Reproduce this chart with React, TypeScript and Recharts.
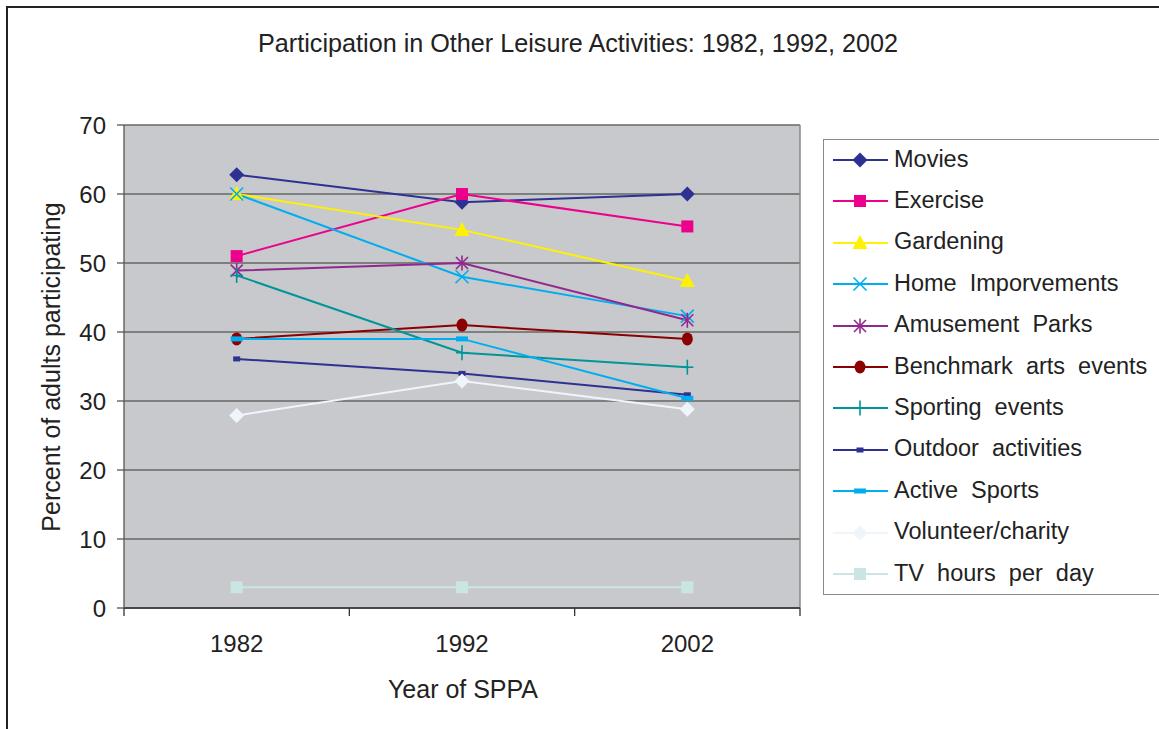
import React from 'react';
import { LineChart, Line, XAxis, YAxis, CartesianGrid, ReferenceLine } from 'recharts';

const years = ['1982', '1992', '2002'];
const movies = [62.8, 58.8, 60];
const exercise = [51, 60, 55.3];
const gardening = [60, 54.8, 47.4];
const homeImprovements = [60, 48, 42.3];
const amusementParks = [48.9, 50, 41.7];
const benchmarkArts = [39, 41, 39];
const sportingEvents = [48.2, 37, 34.9];
const outdoorActivities = [36.1, 34, 30.9];
const activeSports = [39, 39, 30.4];
const volunteerCharity = [27.9, 32.9, 28.8];
const tvHours = [3, 3, 3];
const yTicks = [0, 10, 20, 30, 40, 50, 60, 70];

type Shape = 'diamond' | 'square' | 'triangle' | 'x' | 'star' | 'circle' | 'plus' | 'smallsquare' | 'dash';

const series: { key: string; name: string; color: string; shape: Shape; values: number[] }[] = [
  { key: 'movies', name: 'Movies', color: '#2E3192', shape: 'diamond', values: movies },
  { key: 'exercise', name: 'Exercise', color: '#EC008C', shape: 'square', values: exercise },
  { key: 'gardening', name: 'Gardening', color: '#FFF200', shape: 'triangle', values: gardening },
  { key: 'home', name: 'Home Imporvements', color: '#00AEEF', shape: 'x', values: homeImprovements },
  { key: 'amusement', name: 'Amusement Parks', color: '#92278F', shape: 'star', values: amusementParks },
  { key: 'benchmark', name: 'Benchmark arts events', color: '#8B0000', shape: 'circle', values: benchmarkArts },
  { key: 'sporting', name: 'Sporting events', color: '#009599', shape: 'plus', values: sportingEvents },
  { key: 'outdoor', name: 'Outdoor activities', color: '#2E3192', shape: 'smallsquare', values: outdoorActivities },
  { key: 'active', name: 'Active Sports', color: '#00AEEF', shape: 'dash', values: activeSports },
  { key: 'volunteer', name: 'Volunteer/charity', color: '#EEF6FC', shape: 'diamond', values: volunteerCharity },
  { key: 'tv', name: 'TV hours per day', color: '#C9E6E4', shape: 'square', values: tvHours },
];

const data = years.map((y, i) => {
  const row: Record<string, number | string> = { year: y, pos: i + 0.5 };
  series.forEach((s) => {
    row[s.key] = s.values[i];
  });
  return row;
});

const FONT = "'Liberation Sans', Arial, sans-serif";

function marker(shape: Shape, color: string, cx: number, cy: number, key?: any) {
  switch (shape) {
    case 'diamond':
      return <polygon key={key} points={`${cx},${cy - 7.5} ${cx + 7.5},${cy} ${cx},${cy + 7.5} ${cx - 7.5},${cy}`} fill={color} />;
    case 'square':
      return <rect key={key} x={cx - 6} y={cy - 6} width={12} height={12} fill={color} />;
    case 'triangle':
      return <polygon key={key} points={`${cx},${cy - 8} ${cx + 7.5},${cy + 6} ${cx - 7.5},${cy + 6}`} fill={color} />;
    case 'x':
      return (
        <g key={key} stroke={color} strokeWidth={1.6}>
          <line x1={cx - 6.5} y1={cy - 6.5} x2={cx + 6.5} y2={cy + 6.5} />
          <line x1={cx - 6.5} y1={cy + 6.5} x2={cx + 6.5} y2={cy - 6.5} />
        </g>
      );
    case 'star':
      return (
        <g key={key} stroke={color} strokeWidth={1.6}>
          <line x1={cx - 6} y1={cy - 6} x2={cx + 6} y2={cy + 6} />
          <line x1={cx - 6} y1={cy + 6} x2={cx + 6} y2={cy - 6} />
          <line x1={cx} y1={cy - 7.5} x2={cx} y2={cy + 7.5} />
        </g>
      );
    case 'circle':
      return <ellipse key={key} cx={cx} cy={cy} rx={5.5} ry={6.5} fill={color} />;
    case 'plus':
      return (
        <g key={key} stroke={color} strokeWidth={1.6}>
          <line x1={cx} y1={cy - 7.5} x2={cx} y2={cy + 7.5} />
          <line x1={cx - 6} y1={cy} x2={cx + 6} y2={cy} />
        </g>
      );
    case 'smallsquare':
      return <rect key={key} x={cx - 3.5} y={cy - 2.5} width={7} height={5} fill={color} />;
    case 'dash':
      return <rect key={key} x={cx - 6} y={cy - 2.5} width={12} height={5} fill={color} />;
  }
  return null;
}

const XTick = (props: any) => {
  const { x, y, payload } = props;
  const v = payload.value as number;
  if (Number.isInteger(v)) {
    return <line x1={x} y1={y - 8} x2={x} y2={y} stroke="#333" strokeWidth={1.3} />;
  }
  return (
    <text x={x} y={y + 36} textAnchor="middle" fontSize={24} fill="#222" fontFamily={FONT}>
      {years[Math.floor(v)]}
    </text>
  );
};

const LegendBox = () => (
  <div
    style={{
      position: 'absolute',
      left: 823,
      top: 139,
      width: 400,
      height: 456,
      border: '1.5px solid #8a8a8a',
      background: '#fff',
      boxSizing: 'border-box',
      fontFamily: FONT,
    }}
  >
    {series.map((s, i) => (
      <div key={s.key} style={{ position: 'absolute', left: 8, top: -1 + i * 41.4, height: 40, display: 'flex', alignItems: 'center' }}>
        <svg width={60} height={24}>
          <line x1={1} y1={13} x2={56} y2={13} stroke={s.color} strokeWidth={2} />
          {marker(s.shape, s.color, 28, 13)}
        </svg>
        <span style={{ fontSize: 23.5, color: '#222', marginLeft: 2, whiteSpace: 'nowrap', wordSpacing: 6.5 }}>{s.name}</span>
      </div>
    ))}
  </div>
);

export default function App() {
  return (
    <div style={{ position: 'absolute', left: 0, top: 0, width: 1159, height: 729, overflow: 'hidden', background: '#fff' }}>
      <div style={{ position: 'absolute', left: 6, top: 6, width: 1300, height: 900, border: '2px solid #222' }} />
      <LineChart
        width={1159}
        height={729}
        data={data}
        margin={{ top: 125, right: 359, bottom: 61, left: 0 }}
        style={{ position: 'absolute', left: 0, top: 0 }}
      >
        <CartesianGrid horizontal vertical={false} fill="#C8C9CC" fillOpacity={1} stroke="#666" strokeWidth={1.5} strokeOpacity={1} />
        <XAxis
          dataKey="pos"
          type="number"
          domain={[0, 3]}
          ticks={[0, 0.5, 1, 1.5, 2, 2.5, 3]}
          tickLine={false}
          tickSize={8}
          tickMargin={0}
          tick={<XTick />}
          height={60}
          stroke="#333"
          strokeWidth={1.5}
          interval={0}
        />
        <YAxis
          domain={[0, 70]}
          ticks={yTicks}
          width={124}
          tickSize={7}
          tickMargin={11}
          interval={0}
          stroke="#555"
          strokeWidth={1.3}
          tick={{ fontSize: 24, fill: '#222', fontFamily: FONT }}
        />
        <ReferenceLine x={3} stroke="#888" strokeWidth={1.5} />
        {series.map((s) => (
          <Line
            key={s.key}
            dataKey={s.key}
            name={s.name}
            stroke={s.color}
            strokeWidth={2}
            isAnimationActive={false}
            dot={(p: any) => marker(s.shape, s.color, p.cx, p.cy, p.index)}
            activeDot={false}
          />
        ))}
      </LineChart>
      <LegendBox />
      <div
        style={{
          position: 'absolute',
          left: 578,
          top: 43,
          transform: 'translate(-50%, -50%)',
          fontSize: 25.2,
          color: '#222',
          fontFamily: FONT,
          lineHeight: '30px',
          whiteSpace: 'nowrap',
        }}
      >
        Participation in Other Leisure Activities: 1982, 1992, 2002
      </div>
      <div
        style={{
          position: 'absolute',
          left: 51,
          top: 367,
          transform: 'translate(-50%, -50%) rotate(-90deg)',
          fontSize: 25,
          color: '#222',
          fontFamily: FONT,
          whiteSpace: 'nowrap',
          lineHeight: '30px',
        }}
      >
        Percent of adults participating
      </div>
      <div
        style={{
          position: 'absolute',
          left: 463,
          top: 689,
          transform: 'translate(-50%, -50%)',
          fontSize: 25,
          color: '#222',
          fontFamily: FONT,
          whiteSpace: 'nowrap',
          lineHeight: '30px',
        }}
      >
        Year of SPPA
      </div>
    </div>
  );
}
